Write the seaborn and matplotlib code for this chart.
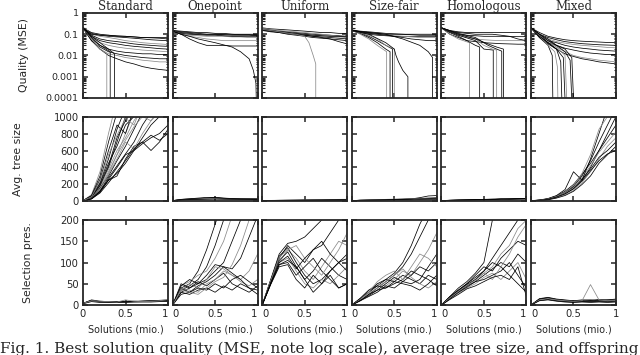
import matplotlib
matplotlib.use('Agg')
import matplotlib.pyplot as plt
import seaborn as sns
import pandas as pd
import numpy as np

# common x grid (solutions, millions)
X = [0.0, 0.1, 0.2, 0.3, 0.4, 0.5, 0.6, 0.7, 0.8, 0.9, 1.0]
methods = ['Standard', 'Onepoint', 'Uniform', 'Size-fair', 'Homologous', 'Mixed']
FLOOR = 1e-5  # runs that reach zero error drop below the axis

# ---- row 1: best solution quality (MSE) ----
q_standard = [
    [0.2, 0.12, 0.1, 0.09, 0.085, 0.08, 0.075, 0.07, 0.068, 0.065, 0.06],
    [0.2, 0.11, 0.09, 0.08, 0.075, 0.07, 0.065, 0.06, 0.055, 0.052, 0.05],
    [0.22, 0.1, 0.08, 0.07, 0.06, 0.05, 0.045, 0.04, 0.037, 0.035, 0.033],
    [0.2, 0.09, 0.06, 0.05, 0.045, 0.04, 0.035, 0.032, 0.03, 0.028, 0.027],
    [0.2, 0.08, 0.05, 0.04, 0.035, 0.03, 0.027, 0.025, 0.023, 0.021, 0.02],
    [0.2, 0.07, 0.04, 0.03, 0.025, 0.022, 0.02, 0.018, 0.017, 0.016, 0.015],
    [0.19, 0.06, 0.03, 0.02, 0.016, 0.014, 0.013, 0.012, 0.012, 0.011, 0.011],
    [0.2, 0.05, 0.025, 0.015, 0.012, 0.01, 0.009, 0.008, 0.0075, 0.007, 0.007],
    [0.2, 0.06, 0.02, 0.012, 0.01, 0.008, 0.007, 0.006, 0.0055, 0.005, 0.005],
    [0.2, 0.05, 0.02, 0.01, 0.007, 0.005, 0.004, 0.003, 0.0025, 0.0022, 0.002],
    [0.2, 0.1, 0.09, 0.09, 0.08, 0.08, 0.075, 0.07, 0.07, 0.07, 0.07],
]
q_standard_drops = [
    ([0, 0.1, 0.2, 0.28, 0.28], [0.2, 0.06, 0.02, 0.012, FLOOR]),
    ([0, 0.1, 0.2, 0.32, 0.32], [0.2, 0.07, 0.03, 0.015, FLOOR]),
    ([0, 0.1, 0.2, 0.3, 0.37, 0.37], [0.2, 0.08, 0.04, 0.02, 0.012, FLOOR]),
]
q_onepoint = [
    [0.15, 0.14, 0.13, 0.12, 0.12, 0.11, 0.11, 0.1, 0.1, 0.1, 0.1],
    [0.14, 0.12, 0.11, 0.1, 0.1, 0.1, 0.095, 0.09, 0.09, 0.09, 0.085],
    [0.14, 0.1, 0.09, 0.085, 0.08, 0.08, 0.08, 0.075, 0.075, 0.07, 0.07],
    [0.13, 0.11, 0.1, 0.095, 0.09, 0.09, 0.085, 0.08, 0.08, 0.08, 0.08],
    [0.15, 0.13, 0.12, 0.11, 0.1, 0.1, 0.1, 0.1, 0.095, 0.095, 0.09],
    [0.14, 0.1, 0.08, 0.07, 0.06, 0.055, 0.05, 0.05, 0.05, 0.05, 0.05],
    [0.14, 0.1, 0.06, 0.04, 0.03, 0.03, 0.03, 0.028, 0.028, 0.028, 0.028],
]
q_onepoint_drops = [
    ([0, 0.1, 0.2, 0.3, 0.5, 0.7, 0.8, 0.9, 0.95, 0.98, 0.99],
     [0.14, 0.1, 0.08, 0.06, 0.04, 0.025, 0.015, 0.007, 0.002, 0.0005, FLOOR]),
]
q_uniform = [
    [0.2, 0.18, 0.17, 0.16, 0.15, 0.14, 0.13, 0.12, 0.12, 0.11, 0.11],
    [0.18, 0.16, 0.14, 0.13, 0.12, 0.11, 0.1, 0.095, 0.09, 0.085, 0.08],
    [0.17, 0.15, 0.13, 0.12, 0.11, 0.1, 0.09, 0.085, 0.08, 0.075, 0.07],
    [0.16, 0.14, 0.12, 0.11, 0.1, 0.09, 0.08, 0.075, 0.07, 0.065, 0.06],
    [0.15, 0.13, 0.12, 0.1, 0.09, 0.08, 0.07, 0.065, 0.06, 0.055, 0.05],
    [0.19, 0.17, 0.15, 0.14, 0.13, 0.12, 0.11, 0.1, 0.09, 0.08, 0.075],
    [0.16, 0.14, 0.13, 0.12, 0.11, 0.1, 0.09, 0.085, 0.08, 0.08, 0.075],
    [0.17, 0.15, 0.13, 0.12, 0.1, 0.09, 0.08, 0.07, 0.06, 0.045, 0.035],
]
q_uniform_drops = [
    ([0, 0.2, 0.4, 0.5, 0.55, 0.6, 0.63, 0.63], [0.17, 0.13, 0.1, 0.08, 0.04, 0.01, 0.004, FLOOR]),
]
q_sizefair = [
    [0.15, 0.13, 0.12, 0.11, 0.1, 0.1, 0.1, 0.095, 0.09, 0.09, 0.09],
    [0.15, 0.12, 0.1, 0.09, 0.085, 0.08, 0.08, 0.08, 0.08, 0.08, 0.08],
    [0.14, 0.12, 0.11, 0.1, 0.09, 0.085, 0.08, 0.075, 0.07, 0.07, 0.07],
    [0.15, 0.13, 0.11, 0.1, 0.09, 0.08, 0.07, 0.06, 0.055, 0.05, 0.05],
    [0.16, 0.14, 0.13, 0.12, 0.11, 0.105, 0.1, 0.1, 0.1, 0.1, 0.1],
]
q_sizefair_drops = [
    ([0, 0.1, 0.2, 0.3, 0.41, 0.41], [0.15, 0.1, 0.06, 0.03, 0.015, FLOOR]),
    ([0, 0.1, 0.2, 0.3, 0.4, 0.45, 0.45], [0.15, 0.11, 0.07, 0.04, 0.02, 0.015, FLOOR]),
    ([0, 0.1, 0.2, 0.3, 0.4, 0.48, 0.48], [0.15, 0.12, 0.08, 0.05, 0.03, 0.02, FLOOR]),
    ([0, 0.2, 0.3, 0.4, 0.5, 0.5], [0.15, 0.09, 0.06, 0.03, 0.02, FLOOR]),
    ([0, 0.2, 0.4, 0.5, 0.52, 0.55, 0.6, 0.66, 0.66], [0.15, 0.1, 0.04, 0.02, 0.01, 0.005, 0.002, 0.001, FLOOR]),
    ([0, 0.2, 0.4, 0.6, 0.8, 0.9, 0.95, 0.95], [0.15, 0.12, 0.1, 0.06, 0.03, 0.015, 0.008, FLOOR]),
]
q_homologous = [
    [0.2, 0.15, 0.13, 0.12, 0.12, 0.12, 0.12, 0.12, 0.12, 0.12, 0.12],
    [0.2, 0.13, 0.1, 0.09, 0.085, 0.08, 0.08, 0.08, 0.078, 0.077, 0.077],
    [0.2, 0.12, 0.09, 0.07, 0.06, 0.055, 0.052, 0.05, 0.05, 0.05, 0.05],
    [0.2, 0.1, 0.07, 0.05, 0.045, 0.04, 0.038, 0.036, 0.035, 0.034, 0.034],
    [0.2, 0.14, 0.12, 0.11, 0.1, 0.1, 0.1, 0.09, 0.08, 0.06, 0.05],
]
q_homologous_drops = [
    ([0, 0.1, 0.2, 0.33, 0.33], [0.2, 0.1, 0.06, 0.04, FLOOR]),
    ([0, 0.1, 0.2, 0.3, 0.4, 0.45, 0.45], [0.2, 0.12, 0.08, 0.05, 0.03, 0.025, FLOOR]),
    ([0, 0.2, 0.4, 0.5, 0.61, 0.61], [0.2, 0.09, 0.05, 0.02, 0.018, FLOOR]),
    ([0, 0.2, 0.4, 0.5, 0.6, 0.65, 0.65], [0.2, 0.1, 0.06, 0.03, 0.02, 0.018, FLOOR]),
    ([0, 0.2, 0.4, 0.55, 0.65, 0.71, 0.71], [0.2, 0.11, 0.07, 0.03, 0.02, 0.016, FLOOR]),
    ([0, 0.2, 0.4, 0.55, 0.65, 0.73, 0.73], [0.2, 0.1, 0.06, 0.035, 0.025, 0.02, FLOOR]),
]
q_mixed = [
    [0.2, 0.12, 0.08, 0.065, 0.055, 0.05, 0.047, 0.045, 0.043, 0.041, 0.04],
    [0.2, 0.1, 0.07, 0.055, 0.045, 0.04, 0.036, 0.034, 0.032, 0.031, 0.03],
    [0.2, 0.1, 0.06, 0.045, 0.038, 0.033, 0.03, 0.028, 0.026, 0.024, 0.023],
    [0.2, 0.09, 0.05, 0.04, 0.03, 0.025, 0.022, 0.02, 0.018, 0.017, 0.016],
    [0.2, 0.08, 0.04, 0.03, 0.022, 0.018, 0.015, 0.013, 0.012, 0.011, 0.011],
    [0.2, 0.08, 0.04, 0.025, 0.015, 0.01, 0.008, 0.007, 0.006, 0.0055, 0.005],
    [0.2, 0.07, 0.035, 0.02, 0.012, 0.009, 0.007, 0.006, 0.005, 0.0045, 0.004],
]
q_mixed_drops = [
    ([0, 0.1, 0.2, 0.25, 0.26], [0.2, 0.07, 0.03, 0.01, FLOOR]),
    ([0, 0.1, 0.2, 0.28, 0.31, 0.32], [0.2, 0.08, 0.03, 0.015, 0.003, FLOOR]),
    ([0, 0.1, 0.2, 0.3, 0.35, 0.37], [0.2, 0.08, 0.04, 0.02, 0.005, FLOOR]),
    ([0, 0.1, 0.2, 0.3, 0.38, 0.41], [0.2, 0.09, 0.04, 0.02, 0.008, FLOOR]),
    ([0, 0.1, 0.2, 0.3, 0.4, 0.43], [0.2, 0.09, 0.05, 0.025, 0.01, FLOOR]),
    ([0, 0.1, 0.2, 0.3, 0.4, 0.46, 0.49], [0.2, 0.1, 0.05, 0.03, 0.015, 0.006, FLOOR]),
    ([0, 0.1, 0.2, 0.3, 0.4, 0.48, 0.51], [0.2, 0.1, 0.06, 0.03, 0.02, 0.008, FLOOR]),
]

# ---- row 2: average tree size ----
t_standard = [
    [10, 50, 180, 400, 700, 1000, 1200, 1300, 1400, 1500, 1600],
    [10, 60, 220, 500, 850, 1100, 1300, 1400, 1500, 1600, 1700],
    [10, 40, 150, 330, 550, 800, 1050, 1200, 1300, 1400, 1500],
    [10, 45, 160, 300, 480, 650, 850, 1050, 1200, 1300, 1400],
    [10, 35, 130, 280, 420, 560, 700, 900, 1050, 1200, 1300],
    [10, 50, 200, 380, 600, 750, 950, 1100, 1200, 1300, 1400],
    [10, 40, 120, 250, 330, 450, 600, 750, 900, 1000, 1100],
    [10, 30, 110, 250, 300, 500, 650, 700, 600, 700, 850],
    [10, 40, 140, 320, 500, 700, 620, 800, 950, 1100, 1200],
    [10, 55, 210, 450, 650, 900, 1000, 1100, 1200, 1300, 1400],
    [10, 35, 120, 260, 400, 550, 600, 680, 750, 800, 900],
    [10, 45, 170, 350, 550, 720, 880, 1000, 950, 1050, 1150],
    [10, 50, 190, 420, 750, 950, 1100, 1200, 1300, 1400, 1500],
    [10, 30, 100, 220, 350, 480, 620, 700, 780, 720, 800],
    [10, 80, 350, 800, 1200, 1400, 1500, 1600, 1700, 1800, 1900],
    [10, 70, 300, 700, 1050, 1300, 1400, 1500, 1600, 1700, 1800],
    [10, 65, 260, 600, 900, 800, 1100, 1300, 1400, 1500, 1600],
    [10, 55, 240, 550, 780, 980, 900, 1150, 1300, 1400, 1500],
]
t_onepoint = [
    [10, 25, 30, 35, 40, 50, 40, 35, 30, 30, 30],
    [10, 20, 25, 28, 30, 32, 30, 28, 28, 27, 27],
    [10, 22, 28, 30, 33, 35, 33, 30, 30, 32, 33],
    [10, 18, 22, 25, 27, 28, 27, 26, 26, 26, 25],
    [10, 24, 32, 40, 48, 45, 38, 34, 32, 31, 30],
]
t_uniform = [
    [10, 12, 13, 14, 15, 16, 17, 18, 19, 20, 20],
    [10, 11, 12, 12, 13, 13, 14, 14, 15, 15, 16],
    [10, 13, 15, 17, 19, 20, 22, 23, 24, 25, 26],
    [10, 12, 14, 15, 16, 18, 19, 20, 21, 22, 22],
    [10, 11, 11, 12, 12, 13, 13, 13, 14, 14, 14],
]
t_sizefair = [
    [10, 15, 18, 20, 22, 25, 28, 32, 36, 40, 45],
    [10, 14, 16, 18, 20, 22, 25, 30, 45, 65, 70],
    [10, 16, 20, 22, 25, 28, 30, 33, 35, 38, 40],
    [10, 12, 14, 15, 16, 18, 19, 20, 22, 24, 25],
    [10, 15, 17, 19, 21, 24, 26, 28, 30, 33, 35],
]
t_homologous = [
    [10, 14, 16, 18, 20, 22, 24, 26, 28, 30, 32],
    [10, 15, 18, 20, 23, 25, 28, 30, 32, 35, 36],
    [10, 12, 14, 15, 16, 17, 18, 19, 20, 21, 22],
    [10, 13, 15, 17, 19, 20, 22, 30, 26, 28, 30],
    [10, 14, 17, 19, 22, 24, 26, 28, 30, 32, 34],
]
t_mixed = [
    [10, 15, 25, 50, 90, 150, 250, 400, 600, 800, 1000],
    [10, 15, 30, 60, 110, 180, 300, 480, 700, 900, 1100],
    [10, 12, 22, 45, 80, 130, 220, 350, 500, 650, 750],
    [10, 14, 28, 55, 100, 170, 260, 380, 520, 600, 700],
    [10, 16, 32, 65, 120, 200, 320, 450, 600, 750, 900],
    [10, 13, 25, 50, 95, 160, 280, 420, 580, 700, 820],
    [10, 18, 35, 70, 140, 350, 250, 500, 800, 1100, 1300],
    [10, 12, 20, 40, 70, 120, 200, 300, 450, 550, 650],
    [10, 15, 30, 60, 110, 190, 330, 550, 850, 1000, 1200],
    [10, 14, 26, 52, 90, 150, 240, 360, 480, 560, 600],
]

# ---- row 3: selection pressure (offspring) ----
s_standard = [
    [4, 10, 8, 8, 8, 8, 9, 9, 10, 10, 11],
    [4, 12, 9, 8, 7, 8, 8, 9, 9, 10, 10],
    [3, 9, 7, 7, 6, 7, 7, 8, 8, 9, 9],
    [4, 11, 8, 7, 8, 9, 8, 9, 10, 11, 12],
    [3, 8, 6, 6, 6, 6, 7, 7, 7, 8, 8],
    [4, 10, 9, 8, 7, 12, 9, 8, 9, 10, 13],
]
s_onepoint = [
    [0, 40, 50, 80, 130, 190, 250, 300, 330, 350, 380],
    [0, 35, 45, 60, 90, 140, 200, 240, 280, 300, 320],
    [0, 45, 55, 70, 80, 110, 150, 210, 250, 280, 300],
    [0, 30, 40, 50, 60, 80, 100, 150, 200, 240, 260],
    [0, 40, 30, 45, 55, 70, 90, 85, 110, 160, 210],
    [0, 35, 50, 40, 60, 90, 85, 70, 60, 80, 120],
    [0, 50, 40, 55, 45, 60, 75, 50, 40, 30, 45],
    [0, 30, 25, 35, 40, 30, 45, 35, 50, 40, 35],
    [0, 40, 35, 30, 50, 60, 80, 70, 55, 45, 60],
    [0, 25, 30, 40, 35, 50, 40, 60, 70, 55, 40],
    [0, 45, 60, 50, 70, 95, 90, 75, 60, 40, 25],
    [0, 35, 30, 25, 40, 55, 65, 95, 140, 200, 240],
]
s_uniform = [
    [0, 60, 120, 145, 150, 160, 180, 200, 230, 250, 270],
    [0, 55, 110, 140, 120, 100, 130, 140, 170, 200, 220],
    [0, 50, 100, 130, 110, 80, 60, 90, 120, 150, 140],
    [0, 58, 115, 135, 100, 70, 50, 60, 80, 100, 120],
    [0, 52, 105, 125, 90, 60, 80, 110, 90, 70, 60],
    [0, 55, 100, 110, 80, 50, 40, 60, 50, 70, 90],
    [0, 50, 95, 100, 70, 90, 110, 80, 60, 40, 50],
    [0, 48, 90, 95, 60, 40, 70, 50, 80, 100, 80],
    [0, 57, 112, 130, 140, 110, 90, 70, 100, 130, 170],
    [0, 53, 100, 115, 85, 110, 130, 150, 120, 100, 110],
    [0, 50, 95, 105, 90, 60, 30, 50, 70, 40, 50],
]
s_sizefair = [
    [0, 15, 30, 45, 60, 75, 100, 140, 190, 230, 260],
    [0, 12, 25, 40, 55, 70, 90, 120, 160, 200, 220],
    [0, 15, 35, 50, 45, 60, 80, 70, 100, 130, 170],
    [0, 10, 25, 35, 50, 65, 55, 70, 90, 80, 100],
    [0, 14, 30, 50, 60, 55, 70, 60, 50, 70, 60],
    [0, 12, 28, 40, 55, 70, 85, 65, 50, 40, 55],
    [0, 16, 35, 45, 40, 50, 60, 80, 70, 60, 45],
    [0, 10, 20, 30, 45, 40, 55, 50, 60, 90, 120],
    [0, 13, 30, 55, 70, 80, 60, 90, 120, 110, 90],
    [0, 11, 22, 35, 40, 55, 50, 45, 35, 50, 70],
]
s_homologous = [
    [0, 20, 40, 55, 75, 100, 200, 260, 300, 330, 360],
    [0, 18, 35, 50, 65, 80, 110, 140, 170, 200, 230],
    [0, 15, 30, 45, 60, 75, 90, 120, 140, 180, 200],
    [0, 20, 35, 50, 70, 90, 80, 110, 130, 150, 140],
    [0, 16, 30, 45, 55, 70, 85, 100, 90, 120, 100],
    [0, 14, 28, 40, 50, 65, 75, 60, 80, 100, 60],
    [0, 18, 33, 48, 60, 80, 100, 90, 70, 50, 30],
    [0, 15, 30, 42, 55, 60, 70, 80, 100, 70, 40],
    [0, 17, 32, 46, 58, 75, 60, 90, 120, 160, 190],
    [0, 13, 25, 38, 45, 55, 65, 70, 60, 90, 20],
]
s_mixed = [
    [0, 15, 18, 14, 12, 10, 12, 11, 13, 12, 14],
    [0, 13, 16, 12, 10, 9, 8, 10, 9, 11, 10],
    [0, 12, 14, 11, 9, 8, 9, 8, 10, 9, 8],
    [0, 14, 17, 13, 11, 10, 11, 12, 10, 12, 12],
    [0, 11, 13, 10, 8, 7, 8, 8, 9, 8, 9],
    [0, 12, 15, 12, 10, 9, 10, 48, 12, 10, 11],
    [0, 10, 12, 9, 7, 6, 7, 6, 7, 6, 7],
]

quality = [q_standard, q_onepoint, q_uniform, q_sizefair, q_homologous, q_mixed]
quality_drops = [q_standard_drops, q_onepoint_drops, q_uniform_drops,
                 q_sizefair_drops, q_homologous_drops, q_mixed_drops]
tree = [t_standard, t_onepoint, t_uniform, t_sizefair, t_homologous, t_mixed]
selection = [s_standard, s_onepoint, s_uniform, s_sizefair, s_homologous, s_mixed]

sns.set_style('ticks')
plt.rcParams['font.family'] = ['DejaVu Sans']
plt.rcParams['xtick.direction'] = 'in'
plt.rcParams['ytick.direction'] = 'in'


def draw(ax, lines, drops=()):
    rows = []
    for i, ys in enumerate(lines):
        for x, y in zip(X, ys):
            rows.append((i, x, y))
    for j, (xs, ys) in enumerate(drops):
        for x, y in zip(xs, ys):
            rows.append((len(lines) + j, x, y))
    df = pd.DataFrame(rows, columns=['run', 'x', 'y'])
    n = df['run'].nunique()
    pal = ['#8a8a8a' if k % 3 == 2 else 'black' for k in range(n)]
    sns.lineplot(data=df, x='x', y='y', hue='run', units='run', estimator=None,
                 sort=False, palette=pal, legend=False, lw=0.55, ax=ax)
    ax.set_xlabel('')
    ax.set_ylabel('')


fig, axes = plt.subplots(3, 6, figsize=(6.4, 3.55), dpi=100)
plt.subplots_adjust(left=83/640, right=616/640, top=1-13/355, bottom=1-305/355,
                    wspace=0.054, hspace=0.218)

for c in range(6):
    # quality
    ax = axes[0, c]
    draw(ax, quality[c], quality_drops[c])
    ax.set_yscale('log')
    ax.set_ylim(1e-4, 1)
    ax.set_yticks([1, 0.1, 0.01, 0.001, 0.0001])
    ax.set_yticklabels(['1', '0.1', '0.01', '0.001', '0.0001'])
    ax.yaxis.set_minor_locator(matplotlib.ticker.LogLocator(subs=np.arange(2, 10)))
    ax.yaxis.set_minor_formatter(matplotlib.ticker.NullFormatter())
    ax.set_title(methods[c], fontfamily='DejaVu Serif', fontsize=8.5, pad=2)
    # tree size
    ax = axes[1, c]
    draw(ax, tree[c])
    ax.set_ylim(0, 1000)
    ax.set_yticks([0, 200, 400, 600, 800, 1000])
    # selection pressure
    ax = axes[2, c]
    draw(ax, selection[c])
    ax.set_ylim(0, 200)
    ax.set_yticks([0, 50, 100, 150, 200])
    ax.set_xlabel('Solutions (mio.)', fontsize=6.9, labelpad=4)

for r in range(3):
    for c in range(6):
        ax = axes[r, c]
        ax.set_xlim(0, 1)
        ax.set_xticks([0, 0.5, 1])
        labels = ax.set_xticklabels(['0', '0.5', '1'])
        # neighbouring "1" and "0" sit side by side, reading "10"
        if c > 0:
            labels[0].set_ha('left')
        if c < 5:
            labels[2].set_ha('right')
        for sp in ax.spines.values():
            sp.set_linewidth(1.3)
            sp.set_visible(True)
        ax.tick_params(which='major', length=3.5, width=1.1, top=True, right=True,
                       labelsize=7.2 if r else 6.8, pad=3)
        ax.tick_params(which='minor', length=1.8, width=0.8, left=True, right=True)
        ax.tick_params(labelleft=(c == 0), labelbottom=(r == 2))

axes[0, 0].set_ylabel('Quality (MSE)', fontsize=7.8)
axes[1, 0].set_ylabel('Avg. tree size', fontsize=7.8)
axes[2, 0].set_ylabel('Selection pres.', fontsize=7.8)
axes[0, 0].yaxis.set_label_coords(-0.635, 0.5)
axes[1, 0].yaxis.set_label_coords(-0.706, 0.5)
axes[2, 0].yaxis.set_label_coords(-0.59, 0.5)

fig.text(0.0, 2/355, 'Fig. 1. Best solution quality (MSE, note log scale), average tree size, and offspring',
         fontfamily='DejaVu Serif', fontsize=11, va='baseline', ha='left')

plt.savefig('out.png', dpi=100)
